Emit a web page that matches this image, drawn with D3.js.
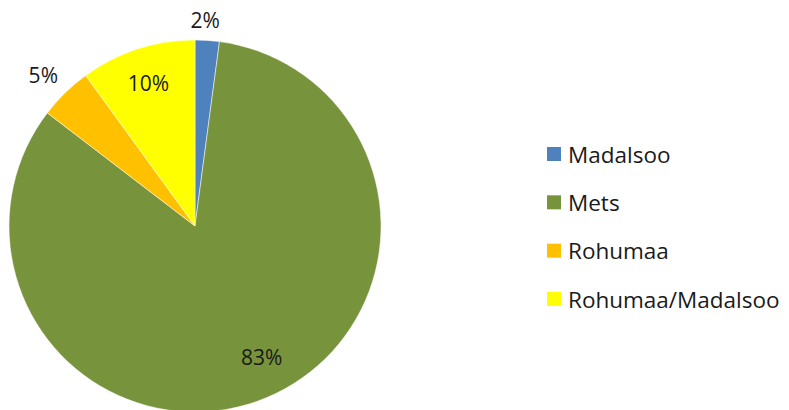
<!DOCTYPE html>
<html><head><meta charset="utf-8">
<script src="https://cdn.jsdelivr.net/npm/d3@7"></script>
<style>body{margin:0;background:#fff}svg{display:block}</style>
</head><body>
<svg id="chart" width="789" height="410"></svg>
<script>
const categories = ["Madalsoo", "Mets", "Rohumaa", "Rohumaa/Madalsoo"];
const values = [2.1, 83.3, 4.6, 10.0];
const labels = ["2%", "83%", "5%", "10%"];
const colors = ["#4F81BD", "#77933C", "#FFC000", "#FFFF00"];

const svg = d3.select("#chart");
const cx = 195, cy = 226, r = 186;
const font = "'Open Sans', sans-serif";

const pie = d3.pie().sort(null).value(d => d)(values);
const arc = d3.arc().innerRadius(0).outerRadius(r);
const g = svg.append("g").attr("transform", `translate(${cx},${cy})`);
g.selectAll("path").data(pie).join("path")
  .attr("d", arc).attr("fill", (d, i) => colors[i])
  .attr("stroke", "#fff").attr("stroke-width", 0.5);

// label placement: radius factor and angular nudge (radians)
const lblRad = [r + 20, r * 0.79, r + 28, r * 0.81];
const lblNudge = [-0.017, -0.078, -0.015, 0];
function lblXY(d, i) {
  const a = (d.startAngle + d.endAngle) / 2 + lblNudge[i];
  return [Math.sin(a) * lblRad[i], -Math.cos(a) * lblRad[i]];
}
g.selectAll("text.lbl").data(pie).join("text")
  .attr("class", "lbl")
  .attr("transform", (d, i) => `translate(${lblXY(d, i)})`)
  .attr("text-anchor", "middle").attr("dominant-baseline", "central")
  .attr("font-family", font).attr("font-size", 21).attr("fill", "#1a1a1a")
  .text((d, i) => labels[i]);

const y = d3.scalePoint().domain(categories).range([154, 299]);
const leg = svg.append("g");
const rows = leg.selectAll("g").data(categories).join("g")
  .attr("transform", d => `translate(547,${y(d)})`);
rows.append("rect").attr("x", 0).attr("y", -7).attr("width", 14).attr("height", 14)
  .attr("fill", (d, i) => colors[i]);
rows.append("text").attr("x", 21).attr("y", 0).attr("dominant-baseline", "central")
  .attr("font-family", font).attr("font-size", 22.5).attr("fill", "#1a1a1a")
  .text(d => d);
</script>
</body></html>
